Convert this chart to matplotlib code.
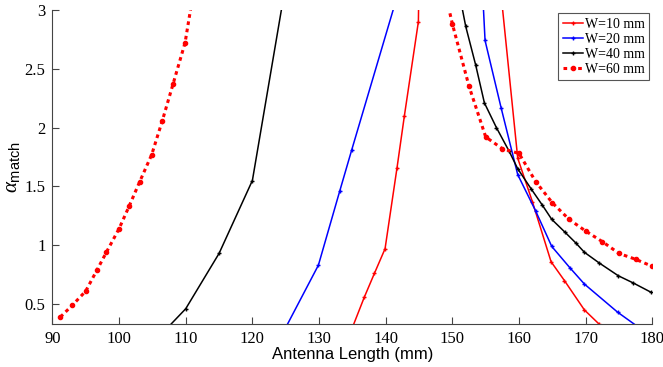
import matplotlib.pyplot as plt

plt.rcParams['mathtext.fontset'] = 'custom'
plt.rcParams['mathtext.rm'] = 'Liberation Sans'
plt.rcParams['mathtext.it'] = 'Liberation Serif:italic'

# W=10 mm
w10_left_x = [135.0, 136.8, 138.3, 139.9, 141.7, 142.8, 144.9, 145.0]
w10_left_y = [0.30, 0.56, 0.76, 0.97, 1.66, 2.10, 2.90, 3.30]
w10_right_x = [157.0, 159.8, 162.0, 164.8, 166.8, 169.8, 172.0]
w10_right_y = [3.30, 1.74, 1.37, 0.86, 0.70, 0.45, 0.33]

# W=20 mm
w20_left_x = [125.0, 129.9, 133.1, 134.9, 141.9]
w20_left_y = [0.30, 0.83, 1.46, 1.81, 3.15]
w20_right_x = [154.4, 154.9, 157.3, 159.8, 162.5, 164.9, 167.6, 169.8, 174.8, 178.0]
w20_right_y = [3.30, 2.74, 2.17, 1.60, 1.29, 0.99, 0.81, 0.67, 0.43, 0.30]

# W=40 mm
w40_left_x = [107.3, 110.0, 115.0, 120.0, 124.8]
w40_left_y = [0.30, 0.46, 0.93, 1.55, 3.15]
w40_right_x = [151.0, 152.0, 153.5, 154.8, 156.6, 158.5, 159.8, 161.8, 163.5,
               164.9, 166.9, 168.5, 169.8, 172.0, 174.9, 177.1, 179.8]
w40_right_y = [3.15, 2.86, 2.53, 2.21, 2.00, 1.80, 1.65, 1.48, 1.34,
               1.22, 1.11, 1.02, 0.94, 0.85, 0.74, 0.68, 0.60]

# W=60 mm
w60_left_x = [91.2, 93.0, 95.0, 96.7, 98.1, 100.0, 101.5, 103.1, 104.9,
              106.5, 108.1, 109.9, 111.3]
w60_left_y = [0.39, 0.49, 0.61, 0.79, 0.94, 1.14, 1.33, 1.54, 1.77,
              2.06, 2.37, 2.72, 3.20]
w60_right_x = [148.5, 150.0, 152.5, 155.0, 157.5, 160.0, 162.5, 165.0, 167.5,
               170.0, 172.5, 175.0, 177.5, 180.0]
w60_right_y = [3.25, 2.88, 2.35, 1.92, 1.82, 1.78, 1.54, 1.36, 1.22,
               1.12, 1.03, 0.93, 0.88, 0.82]

fig = plt.figure(figsize=(6.63, 3.67), dpi=100)
ax = fig.add_axes([0.079, 0.118, 0.905, 0.855])

solid = dict(lw=1.1, marker='+', ms=3.5, mew=1.0)
ax.plot(w10_left_x, w10_left_y, color='red', label='W=10 mm', **solid)
ax.plot(w10_right_x, w10_right_y, color='red', **solid)
ax.plot(w20_left_x, w20_left_y, color='blue', label='W=20 mm', **solid)
ax.plot(w20_right_x, w20_right_y, color='blue', **solid)
ax.plot(w40_left_x, w40_left_y, color='black', label='W=40 mm', **solid)
ax.plot(w40_right_x, w40_right_y, color='black', **solid)
dotted = dict(lw=2.2, ls=(0, (1.2, 1.2)), marker='.', ms=6)
ax.plot(w60_left_x, w60_left_y, color='red', label='W=60 mm', **dotted)
ax.plot(w60_right_x, w60_right_y, color='red', **dotted)

ax.set_xlim(90, 180)
ax.set_ylim(0.333, 3)
ax.set_xticks(range(90, 181, 10))
ax.set_yticks([0.5, 1, 1.5, 2, 2.5, 3])
ax.set_yticklabels(['0.5', '1', '1.5', '2', '2.5', '3'])
for lab in ax.get_xticklabels() + ax.get_yticklabels():
    lab.set_fontfamily('Liberation Serif')
    lab.set_fontsize(12)
ax.tick_params(direction='in', length=5, color='#444444', pad=5)
ax.spines['top'].set_visible(False)
ax.spines['right'].set_visible(False)
for s in ['left', 'bottom']:
    ax.spines[s].set_color('#444444')

ax.set_xlabel('Antenna Length (mm)', fontfamily='Liberation Sans', fontsize=12,
              labelpad=0)
ax.set_ylabel(r'$\alpha_{\mathrm{match}}$', fontsize=15, labelpad=2)

leg = ax.legend(loc='upper right', prop={'family': 'Liberation Serif', 'size': 10},
                fancybox=False, edgecolor='#555555', handlelength=1.5,
                handletextpad=0.1, labelspacing=0.15, borderpad=0.3,
                borderaxespad=0.25, framealpha=1)
leg.get_frame().set_linewidth(0.8)

fig.savefig('out.png', dpi=100)
